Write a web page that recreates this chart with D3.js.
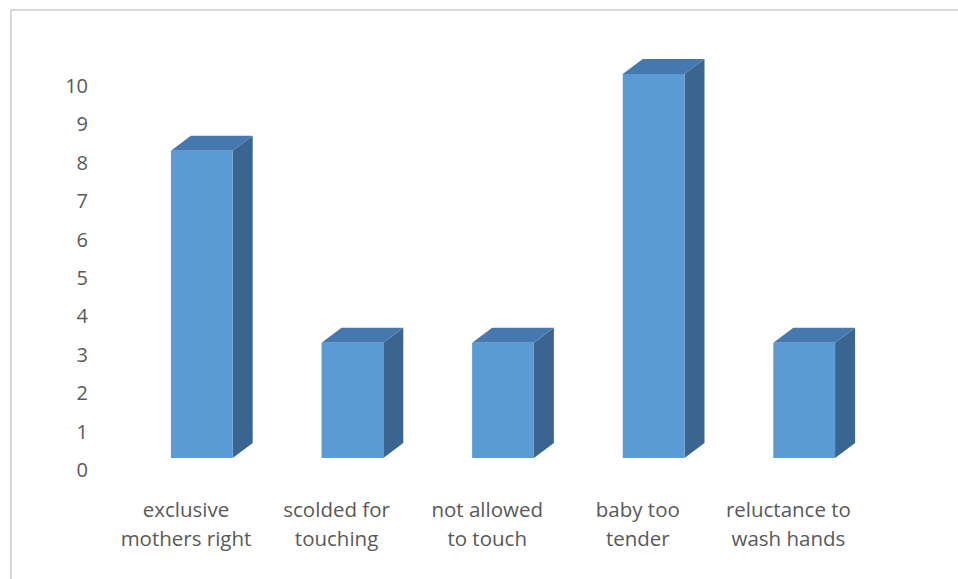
<!DOCTYPE html>
<html><head><meta charset="utf-8">
<script src="https://cdn.jsdelivr.net/npm/d3@7"></script>
<style>html,body{margin:0;padding:0;background:#fff;overflow:hidden}</style>
</head><body>
<svg id="c" width="958" height="579"></svg>
<script>
const categories = [["exclusive","mothers right"],["scolded for","touching"],["not allowed","to touch"],["baby too","tender"],["reluctance to","wash hands"]];
const values = [8, 3, 3, 10, 3];
const yTicks = [0,1,2,3,4,5,6,7,8,9,10];

const svg = d3.select("#c");
svg.append("rect").attr("x",11).attr("y",10).attr("width",960).attr("height",600)
  .attr("fill","#fff").attr("stroke","#d9d9d9").attr("stroke-width",2);

const keys = categories.map((c,i)=>i);
const x = d3.scaleBand().domain(keys).range([110.7, 863.7]);
const y = d3.scaleLinear().domain([0,10]).range([470, 86]);
const dx = 20, dy = -15, lift = 12;
const frontOff = x.bandwidth()*0.40, frontW = x.bandwidth()*0.41;

const font = "'Open Sans', sans-serif";
const yAxis = d3.axisLeft(y).tickValues(yTicks).tickSize(0).tickPadding(0);
const gy = svg.append("g").attr("transform","translate(88,0)").call(yAxis);
gy.select(".domain").remove();
gy.selectAll("text").attr("fill","#595959").style("font-family",font).style("font-size","20px");

const g = svg.append("g");
values.forEach((v,i)=>{
  const x0 = x(i)+frontOff, x1 = x0+frontW;
  const yb = y(0)-lift, yt = y(v)-lift;
  g.append("path").attr("d",`M${x1},${yt}L${x1+dx},${yt+dy}L${x1+dx},${yb+dy}L${x1},${yb}Z`).attr("fill","#3b6590");
  g.append("path").attr("d",`M${x0},${yt}L${x0+dx},${yt+dy}L${x1+dx},${yt+dy}L${x1},${yt}Z`).attr("fill","#4678b0");
  g.append("rect").attr("x",x0).attr("y",yt).attr("width",frontW).attr("height",yb-yt).attr("fill","#5b9bd5");
});

const gx = svg.append("g");
categories.forEach((lines,i)=>{
  const t = gx.append("text").attr("x",x(i)+x.bandwidth()/2).attr("y",517)
    .attr("text-anchor","middle").attr("fill","#595959").style("font-family",font).style("font-size","20.5px");
  lines.forEach((l,j)=>t.append("tspan").attr("x",x(i)+x.bandwidth()/2).attr("dy",j?29:0).text(l));
});
</script>
</body></html>
